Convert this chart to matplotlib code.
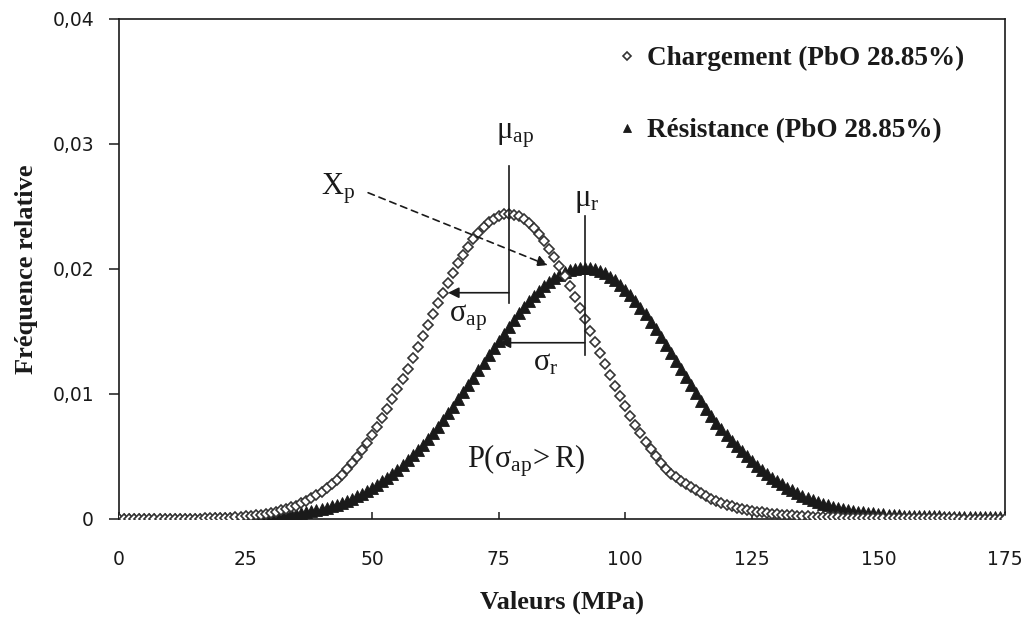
import numpy as np
import matplotlib.pyplot as plt
from matplotlib.ticker import FuncFormatter

plt.rcParams['font.family'] = ['Liberation Serif', 'DejaVu Serif']
plt.rcParams['mathtext.fontset'] = 'custom'
plt.rcParams['mathtext.rm'] = 'Liberation Serif'
plt.rcParams['mathtext.it'] = 'Liberation Serif:italic'
plt.rcParams['mathtext.default'] = 'regular'

# valeurs en MPa, pas de 1
valeurs = np.arange(0, 176)

chargement = [
    0.00000, 0.00000, 0.00000, 0.00000, 0.00000, 0.00000, 0.00000, 0.00000, 0.00001, 0.00001,
    0.00001, 0.00001, 0.00001, 0.00002, 0.00002, 0.00003, 0.00003, 0.00004, 0.00005, 0.00006,
    0.00007, 0.00009, 0.00011, 0.00014, 0.00017, 0.00020, 0.00025, 0.00029, 0.00035, 0.00041,
    0.00049, 0.00057, 0.00068, 0.00079, 0.00092, 0.00107, 0.00124, 0.00143, 0.00165, 0.00189,
    0.00216, 0.00246, 0.00279, 0.00315, 0.00354, 0.00398, 0.00444, 0.00495, 0.00550, 0.00609,
    0.00671, 0.00737, 0.00806, 0.00880, 0.00956, 0.01036, 0.01117, 0.01201, 0.01287, 0.01374,
    0.01462, 0.01550, 0.01638, 0.01724, 0.01809, 0.01890, 0.01969, 0.02044, 0.02114, 0.02178,
    0.02237, 0.02289, 0.02334, 0.02372, 0.02401, 0.02423, 0.02436, 0.02440, 0.02435, 0.02422,
    0.02399, 0.02368, 0.02328, 0.02280, 0.02225, 0.02163, 0.02095, 0.02021, 0.01943, 0.01861,
    0.01775, 0.01687, 0.01598, 0.01507, 0.01416, 0.01326, 0.01237, 0.01149, 0.01064, 0.00981,
    0.00902, 0.00825, 0.00753, 0.00684, 0.00619, 0.00558, 0.00501, 0.00449, 0.00402, 0.00362,
    0.00332, 0.00305, 0.00280, 0.00256, 0.00228, 0.00205, 0.00182, 0.00162, 0.00143, 0.00126,
    0.00112, 0.00100, 0.00090, 0.00081, 0.00074, 0.00066, 0.00058, 0.00052, 0.00047, 0.00043,
    0.00039, 0.00035, 0.00031, 0.00028, 0.00025, 0.00023, 0.00021, 0.00019, 0.00017, 0.00015,
    0.00014, 0.00013, 0.00012, 0.00011, 0.00010, 0.00009, 0.00009, 0.00008, 0.00008, 0.00007,
    0.00007, 0.00006, 0.00006, 0.00006, 0.00006, 0.00006, 0.00005, 0.00005, 0.00005, 0.00005,
    0.00005, 0.00004, 0.00004, 0.00004, 0.00004, 0.00004, 0.00003, 0.00003, 0.00003, 0.00003,
    0.00003, 0.00003, 0.00003, 0.00003, 0.00003, 0.00003,
]

resistance = [
    0.00000, 0.00000, 0.00000, 0.00000, 0.00000, 0.00000, 0.00000, 0.00000, 0.00001, 0.00001,
    0.00001, 0.00001, 0.00001, 0.00001, 0.00002, 0.00002, 0.00002, 0.00003, 0.00003, 0.00004,
    0.00004, 0.00005, 0.00006, 0.00007, 0.00008, 0.00010, 0.00011, 0.00013, 0.00015, 0.00018,
    0.00021, 0.00024, 0.00028, 0.00032, 0.00037, 0.00042, 0.00048, 0.00055, 0.00063, 0.00071,
    0.00081, 0.00091, 0.00103, 0.00115, 0.00130, 0.00145, 0.00162, 0.00181, 0.00201, 0.00223,
    0.00246, 0.00272, 0.00300, 0.00329, 0.00361, 0.00394, 0.00430, 0.00468, 0.00508, 0.00550,
    0.00594, 0.00641, 0.00689, 0.00739, 0.00791, 0.00844, 0.00899, 0.00956, 0.01013, 0.01071,
    0.01130, 0.01189, 0.01249, 0.01308, 0.01367, 0.01425, 0.01482, 0.01538, 0.01592, 0.01644,
    0.01694, 0.01741, 0.01785, 0.01825, 0.01863, 0.01896, 0.01926, 0.01951, 0.01972, 0.01989,
    0.02000, 0.02008, 0.02010, 0.02007, 0.01999, 0.01984, 0.01965, 0.01939, 0.01909, 0.01874,
    0.01834, 0.01790, 0.01742, 0.01691, 0.01636, 0.01579, 0.01519, 0.01457, 0.01394, 0.01330,
    0.01265, 0.01200, 0.01135, 0.01070, 0.01006, 0.00943, 0.00882, 0.00822, 0.00770, 0.00720,
    0.00672, 0.00626, 0.00582, 0.00540, 0.00500, 0.00462, 0.00426, 0.00392, 0.00360, 0.00330,
    0.00302, 0.00276, 0.00251, 0.00228, 0.00207, 0.00187, 0.00169, 0.00152, 0.00137, 0.00123,
    0.00110, 0.00099, 0.00089, 0.00080, 0.00072, 0.00065, 0.00059, 0.00053, 0.00048, 0.00044,
    0.00040, 0.00037, 0.00034, 0.00031, 0.00029, 0.00027, 0.00025, 0.00024, 0.00023, 0.00022,
    0.00021, 0.00020, 0.00020, 0.00019, 0.00019, 0.00018, 0.00018, 0.00018, 0.00017, 0.00017,
    0.00017, 0.00016, 0.00016, 0.00016, 0.00015, 0.00015,
]

# moyennes et ecarts reportes sur le graphe
mu_ap, sigma_ap = 77, 12
mu_r, sigma_r = 92, 16.8

x_ticks = [0, 25, 50, 75, 100, 125, 150, 175]
y_ticks = [0, 0.01, 0.02, 0.03, 0.04]

ink = '#1a1a1a'

fig = plt.figure(figsize=(10.28, 6.22), dpi=100)
ax = fig.add_axes([0.1158, 0.1656, 0.8618, 0.8039])

ax.plot(valeurs, resistance, linestyle='none', marker='^', markersize=8,
        color=ink, markeredgewidth=0.6, label='Résistance (PbO 28.85%)', zorder=3)
ax.plot(valeurs, chargement, linestyle='none', marker='D', markersize=5.2,
        markerfacecolor='white', markeredgecolor='#333333', markeredgewidth=1.2,
        label='Chargement (PbO 28.85%)', zorder=4)

ax.set_xlim(0, 175)
ax.set_ylim(0, 0.04)
ax.set_xticks(x_ticks)
ax.set_yticks(y_ticks)
ax.yaxis.set_major_formatter(FuncFormatter(
    lambda v, _: '0' if v == 0 else f'{v:.2f}'.replace('.', ',')))

for side in ['left', 'right', 'top', 'bottom']:
    ax.spines[side].set_linewidth(1.2)
    ax.spines[side].set_color(ink)

ax.tick_params(axis='x', direction='in', length=5, width=1.1, pad=22,
               labelsize=13.5, colors=ink)
ax.tick_params(axis='y', direction='out', length=7, width=1.1, pad=11,
               labelsize=13.5, colors=ink)
for lab in ax.get_xticklabels() + ax.get_yticklabels():
    lab.set_family('DejaVu Sans')

ax.set_xlabel('Valeurs (MPa)', fontsize=19, fontweight='bold', color=ink, labelpad=16)
ax.set_ylabel('Fréquence relative', fontsize=19, fontweight='bold', color=ink, labelpad=10)

handles, labels = ax.get_legend_handles_labels()
leg = ax.legend(handles[::-1], labels[::-1], loc='upper right', frameon=False,
                bbox_to_anchor=(0.982, 0.995), handlelength=0.5, handletextpad=0.5,
                labelspacing=1.75, markerscale=0.75,
                prop={'family': 'Liberation Serif', 'size': 19.5, 'weight': 'bold'})
for t in leg.get_texts():
    t.set_color(ink)

# moyennes et ecarts types
ax.plot([mu_ap, mu_ap], [0.0173, 0.0282], color=ink, lw=1.2, zorder=5)
ax.plot([mu_r, mu_r], [0.0131, 0.0242], color=ink, lw=1.2, zorder=5)
arrow = dict(arrowstyle='-|>', color=ink, lw=1.2, mutation_scale=16,
             shrinkA=0, shrinkB=0)
ax.annotate('', xy=(mu_ap - sigma_ap, 0.0181), xytext=(mu_ap, 0.0181),
            arrowprops=arrow, zorder=6)
ax.annotate('', xy=(mu_r - sigma_r, 0.0141), xytext=(mu_r, 0.0141),
            arrowprops=arrow, zorder=6)

txt = dict(fontsize=22, color=ink, ha='center', va='center', zorder=6)
ax.text(78.2, 0.0307, r'$\mu_{ap}$', **txt)
ax.text(92.3, 0.0255, r'$\mu_{r}$', **txt)
ax.text(69.0, 0.0161, r'$\sigma_{ap}$', **txt)
ax.text(84.2, 0.0125, r'$\sigma_{r}$', **txt)
ax.text(43.3, 0.0264, r'$X_{p}$', **txt)
ax.text(80.4, 0.0047, r'$P(\sigma_{ap}\!> R)$', **txt)

ax.annotate('', xy=(84.7, 0.0203), xytext=(49.2, 0.0261),
            arrowprops=dict(arrowstyle='-|>', color=ink, lw=1.2, linestyle=(0, (4, 3)),
                            mutation_scale=16, shrinkA=0, shrinkB=0), zorder=6)

fig.savefig('out.png', dpi=100)
